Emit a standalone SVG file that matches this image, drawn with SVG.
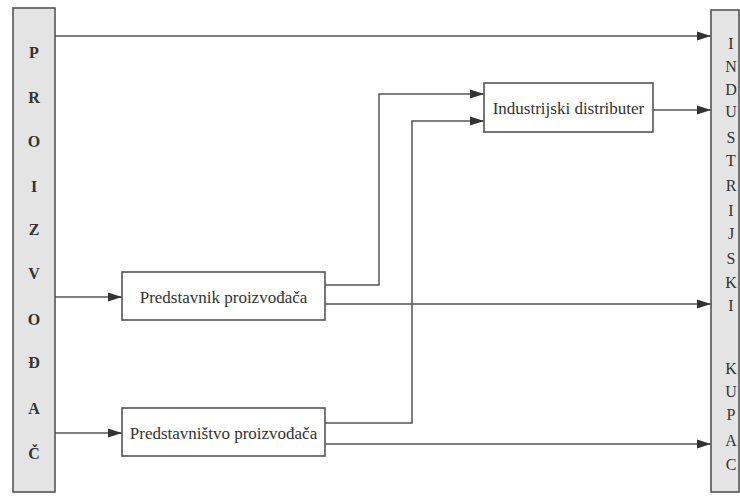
<svg xmlns="http://www.w3.org/2000/svg" width="740" height="496" viewBox="0 0 740 496">
<defs>
<marker id="arr" markerWidth="14" markerHeight="10" refX="14" refY="5" orient="auto" markerUnits="userSpaceOnUse">
<path d="M0,0.5 L14,5 L0,9.5 Z" fill="#333"/>
</marker>
<style>
.bar{fill:#e4e4e4;stroke:#555;stroke-width:1.6}
.box{fill:#fff;stroke:#555;stroke-width:1.6}
.ln{fill:none;stroke:#555;stroke-width:1.5}
.ar{marker-end:url(#arr)}
.lt{font-family:"Liberation Serif","Times New Roman",serif;font-size:16px;font-weight:bold;fill:#333;text-anchor:middle}
.rt{font-family:"Liberation Serif","Times New Roman",serif;font-size:16px;fill:#333;text-anchor:middle}
.nt{font-family:"Liberation Serif","Times New Roman",serif;font-size:17px;fill:#333;text-anchor:middle;dominant-baseline:central}
</style>
</defs>
<rect width="740" height="496" fill="#fff"/>
<g id="proizvodjac">
<rect class="bar" x="13" y="8" width="42" height="484"/>
<text class="lt" x="34" y="58">P</text>
<text class="lt" x="34" y="103">R</text>
<text class="lt" x="34" y="147">O</text>
<text class="lt" x="34" y="192">I</text>
<text class="lt" x="34" y="235">Z</text>
<text class="lt" x="34" y="279">V</text>
<text class="lt" x="34" y="325">O</text>
<text class="lt" x="34" y="368">Đ</text>
<text class="lt" x="34" y="414">A</text>
<text class="lt" x="34" y="459">Č</text>
</g>
<g id="kupac">
<rect class="bar" x="711" y="10" width="28" height="482"/>
<text class="rt" x="731" y="49">I</text>
<text class="rt" x="731" y="72">N</text>
<text class="rt" x="731" y="95">D</text>
<text class="rt" x="731" y="117">U</text>
<text class="rt" x="731" y="143">S</text>
<text class="rt" x="731" y="166">T</text>
<text class="rt" x="731" y="191">R</text>
<text class="rt" x="731" y="216">I</text>
<text class="rt" x="731" y="239">J</text>
<text class="rt" x="731" y="264">S</text>
<text class="rt" x="731" y="288">K</text>
<text class="rt" x="731" y="311">I</text>
<text class="rt" x="731" y="374">K</text>
<text class="rt" x="731" y="397">U</text>
<text class="rt" x="731" y="420">P</text>
<text class="rt" x="731" y="446">A</text>
<text class="rt" x="731" y="470">C</text>
</g>
<g id="distributer">
<rect class="box" x="484" y="83" width="169" height="49"/>
<text class="nt" x="568.5" y="108">Industrijski distributer</text>
</g>
<g id="predstavnik">
<rect class="box" x="122" y="272" width="203" height="48"/>
<text class="nt" x="223.5" y="297">Predstavnik proizvođača</text>
</g>
<g id="predstavnistvo">
<rect class="box" x="122" y="408" width="203" height="48"/>
<text class="nt" x="223.5" y="433">Predstavništvo proizvođača</text>
</g>
<g id="connectors">
<path class="ln ar" d="M55,36 H711"/>
<path class="ln ar" d="M653,110 H711"/>
<path class="ln ar" d="M55,297 H122"/>
<path class="ln ar" d="M55,433 H122"/>
<path class="ln ar" d="M325,285 H379 V94 H484"/>
<path class="ln ar" d="M325,423 H412 V121 H484"/>
<path class="ln ar" d="M325,304 H711"/>
<path class="ln ar" d="M325,444 H711"/>
</g>
</svg>
